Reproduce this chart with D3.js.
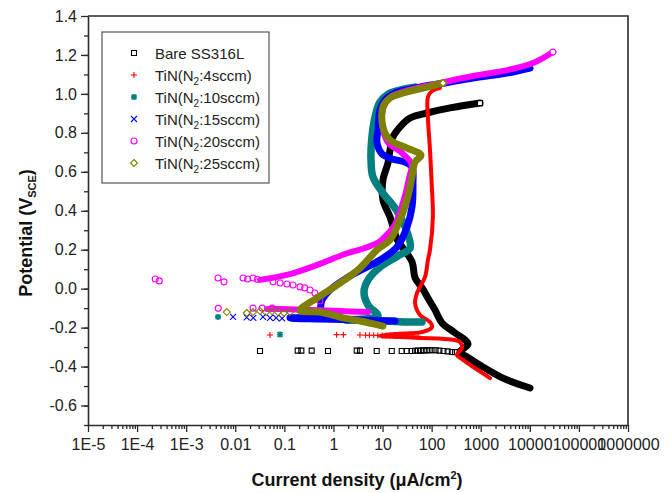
<!DOCTYPE html>
<html>
<head>
<meta charset="utf-8">
<script src="https://cdn.jsdelivr.net/npm/d3@7"></script>
<style>
  html, body { margin: 0; padding: 0; background: #fff; }
  svg { display: block; font-family: "Liberation Sans", Arial, Helvetica, sans-serif; }
</style>
</head>
<body>
<svg id="chart" width="671" height="493"></svg>
<script>
// ---- axis ticks ----
const xTickValues = [1e-5, 1e-4, 1e-3, 1e-2, 1e-1, 1, 10, 100, 1000, 1e4, 1e5, 1e6];
const xTickLabels = ["1E-5", "1E-4", "1E-3", "0.01", "0.1", "1", "10", "100", "1000", "10000", "100000", "1000000"];
const yTickValues = [-0.6, -0.4, -0.2, 0.0, 0.2, 0.4, 0.6, 0.8, 1.0, 1.2, 1.4];
const yTickLabels = ["-0.6", "-0.4", "-0.2", "0.0", "0.2", "0.4", "0.6", "0.8", "1.0", "1.2", "1.4"];

// ---- legend entries: [text, subscript, text after subscript] ----
const legendLabels = [
  ["Bare SS316L", "", ""],
  ["TiN(N", "2", ":4sccm)"],
  ["TiN(N", "2", ":10sccm)"],
  ["TiN(N", "2", ":15sccm)"],
  ["TiN(N", "2", ":20sccm)"],
  ["TiN(N", "2", ":25sccm)"]
];
const seriesColors = ["#000000", "#ff0000", "#008080", "#0000ff", "#ff00ff", "#808000"];
const seriesMarkers = ["square", "plus", "asterisk", "times", "circle", "diamond"];

// ---- polarization curves: [current density (uA/cm2), potential (V vs SCE)] ----
const bareCurve = [[10100,-0.510],[2840,-0.459],[1110,-0.402],[526,-0.351],[378,-0.325],[551,-0.284],
  [299,-0.227],[163,-0.176],[117,-0.109],[84,-0.048],[64,0.004],[46,0.055],[40,0.137],[25,0.214],
  [20,0.250],[14.2,0.368],[10.2,0.455],[10.2,0.558],[12.9,0.645],[14.2,0.712],[16.3,0.779],
  [22.7,0.830],[36.2,0.876],[80.5,0.902],[237,0.928],[966,0.953]];
const bareScatter = [[0.0319,-0.320],[0.187,-0.318],[0.222,-0.318],[0.36,-0.318],[0.774,-0.320],
  [2.98,-0.318],[3.47,-0.318],[7.6,-0.320],[15.4,-0.320],[24.6,-0.320],[31,-0.320],[39.3,-0.320],
  [45.8,-0.319],[52.6,-0.318],[60.3,-0.318],[69.2,-0.317],[79.4,-0.317],[91,-0.316],[104,-0.316],
  [120,-0.316],[144,-0.318],[174,-0.320],[212,-0.322],[258,-0.325],[300,-0.326]];

const tin4Curve = [[1545,-0.459],[697,-0.402],[435,-0.366],[329,-0.340],[415,-0.305],[378,-0.274],
  [187,-0.258],[57.9,-0.253],[22.7,-0.248],[8.87,-0.243],[17.9,-0.233],[66.7,-0.222],[102,-0.197],
  [92.6,-0.171],[57.9,-0.135],[46,-0.073],[50.4,-0.022],[73.3,0.060],[84,0.147],[92.6,0.199],
  [106,0.368],[100,0.543],[92.6,0.712],[84,0.881],[84,0.984],[102,1.015],[148,1.030]];
const tin4Scatter = [[0.051,-0.238],[1.16,-0.236],[1.59,-0.236],[3.47,-0.238],[4.5,-0.239],
  [5.4,-0.239],[6.6,-0.239],[8,-0.240],[9.8,-0.240],[11.9,-0.240],[14.2,-0.241],[17.3,-0.241],
  [21,-0.241],[25,-0.242],[30,-0.242],[36,-0.243],[44,-0.243],[53,-0.244]];

const tin10Curve = [[63.7,-0.171],[28.7,-0.171],[11.2,-0.166],[4.40,-0.161],[1.72,-0.161],
  [8.07,-0.140],[5.06,-0.084],[4.19,-0.017],[5.06,0.045],[8.87,0.111],[20.7,0.168],[36.3,0.209],
  [33.0,0.276],[19.7,0.399],[10.2,0.491],[6.39,0.573],[5.82,0.661],[6.0,0.763],[7.02,0.881],
  [8.87,0.958],[12.9,0.999],[22.7,1.020],[45.8,1.035]];
const tin10Scatter = [[0.00445,-0.145],[0.0815,-0.235]];

const tin15Curve = [[17.9,-0.166],[3.47,-0.161],[0.531,-0.156],[0.130,-0.150],[0.484,-0.135],
  [0.585,-0.058],[0.851,-0.007],[2.17,0.065],[8.87,0.147],[19.7,0.214],[31.5,0.317],[39.8,0.419],
  [41.7,0.543],[39.8,0.625],[28.7,0.650],[15.6,0.666],[9.75,0.692],[7.71,0.748],[8.07,0.815],
  [8.87,0.917],[11.2,0.969],[17.9,1.005],[36.3,1.025],[73.3,1.041],[187,1.056],[697,1.082],
  [3430,1.107],[10090,1.133]];
const tin15Scatter = [[0.0090,-0.145],[0.0171,-0.147],[0.0233,-0.150],[0.0367,-0.145],
  [0.051,-0.150],[0.068,-0.150],[0.090,-0.152]];

const tin20Curve = [[0.032,0.045],[0.130,0.075],[0.531,0.127],[1.72,0.178],[4.40,0.209],
  [8.5,0.240],[12,0.275],[18,0.330],[27,0.455],[35,0.573],[39,0.640],[24,0.700],[13,0.750],
  [10,0.830],[10.5,0.933],[14.5,0.984],[30,1.015],[150,1.056],[697,1.092],[3430,1.122],
  [12000,1.160],[29600,1.215]];
const tin20Lower = [[5.06,-0.120],[1.36,-0.115],[0.333,-0.109],[0.0815,-0.104],[0.0443,-0.104]];
const tin20Scatter = [[2.34e-4,0.050],[2.83e-4,0.040],[0.00445,0.055],[0.0059,0.035],
  [0.0144,0.055],[0.0179,0.050],[0.023,0.055],[0.028,0.048],
  [0.0045,-0.101],[0.023,-0.100],[0.0354,-0.100],[0.0565,-0.100],
  [0.0588,0.035],[0.082,0.029],[0.113,0.024],[0.150,0.019],[0.208,0.009],[0.26,0.004],
  [0.333,-0.007],[0.42,-0.022],[0.48,-0.043],[0.53,-0.063]];

const tin25Curve = [[10.2,-0.192],[3.47,-0.166],[1.57,-0.150],[0.531,-0.120],[0.208,-0.112],
  [0.531,-0.038],[1.36,0.029],[3.47,0.106],[7.71,0.199],[14.2,0.250],[19.7,0.317],[31.5,0.455],
  [39.8,0.573],[45.8,0.650],[60.7,0.686],[31.5,0.722],[14.2,0.763],[10.2,0.830],[10.2,0.933],
  [14.2,0.979],[31.5,1.010],[80.5,1.035],[171,1.056]];
const tin25Scatter = [[0.0067,-0.120],[0.0171,-0.125],[0.023,-0.120],[0.0319,-0.115],
  [0.042,-0.120],[0.056,-0.115],[0.074,-0.120],[0.098,-0.125],[0.130,-0.120]];

(function draw() {
  // ---- series table built from the arrays above ----
  const series = [
    { curves: [bareCurve], scatter: bareScatter, width: 7, endMark: true },
    { curves: [tin4Curve], scatter: tin4Scatter, width: 4, endMark: false },
    { curves: [tin10Curve], scatter: tin10Scatter, width: 7.5, endMark: false },
    { curves: [tin15Curve], scatter: tin15Scatter, width: 7, endMark: false },
    { curves: [tin20Curve, tin20Lower], scatter: tin20Scatter, width: 6, endMark: true },
    { curves: [tin25Curve], scatter: tin25Scatter, width: 7, endMark: true }
  ].map((s, i) => Object.assign(s, { color: seriesColors[i], marker: seriesMarkers[i], label: legendLabels[i] }));

  const svg = d3.select("#chart");
  const plotL = 88, plotR = 628, plotT = 16, plotB = 425;

  const x = d3.scaleLog().domain([1e-5, 1e6]).range([plotL, plotR]);
  const y = d3.scaleLinear().domain([-0.7, 1.4]).range([plotB, plotT]);

  const axisColor = "#2a2a2a";

  // marker outlines centred on the origin
  function markerPath(type, s) {
    const h = s / 2;
    switch (type) {
      case "square": return `M${-h},${-h}H${h}V${h}H${-h}Z`;
      case "plus": return `M${-h},0H${h}M0,${-h}V${h}`;
      case "times": return `M${-h},${-h}L${h},${h}M${-h},${h}L${h},${-h}`;
      case "asterisk": return `M${-h},0H${h}M0,${-h}V${h}M${-h * 0.8},${-h * 0.8}L${h * 0.8},${h * 0.8}M${-h * 0.8},${h * 0.8}L${h * 0.8},${-h * 0.8}`;
      case "circle": return `M${h},0A${h},${h} 0 1,1 ${-h},0A${h},${h} 0 1,1 ${h},0Z`;
      case "diamond": return `M0,${-h}L${h},0L0,${h}L${-h},0Z`;
    }
  }
  const markerSize = { square: 5, plus: 6, asterisk: 6, times: 6, circle: 6, diamond: 7 };

  svg.append("defs").append("clipPath").attr("id", "plotClip")
    .append("rect").attr("x", plotL).attr("y", plotT).attr("width", plotR - plotL).attr("height", plotB - plotT);

  // ---- data ----
  const line = d3.line()
    .x(d => x(d[0])).y(d => y(d[1]))
    .curve(d3.curveCatmullRom.alpha(0.5));

  const plot = svg.append("g").attr("clip-path", "url(#plotClip)");

  series.forEach(s => {
    const g = plot.append("g");
    g.selectAll("path.pt").data(s.scatter).enter().append("path")
      .attr("class", "pt")
      .attr("d", markerPath(s.marker, markerSize[s.marker]))
      .attr("transform", d => `translate(${x(d[0])},${y(d[1])})`)
      .attr("fill", "none")
      .attr("stroke", s.color)
      .attr("stroke-width", s.marker === "asterisk" ? 1.6 : 1.1);
    s.curves.forEach(c => {
      g.append("path")
        .datum(c)
        .attr("d", line)
        .attr("fill", "none")
        .attr("stroke", s.color)
        .attr("stroke-width", s.width)
        .attr("stroke-linejoin", "round")
        .attr("stroke-linecap", "round");
    });
    if (s.endMark) {
      const last = s.curves[0][s.curves[0].length - 1];
      g.append("path")
        .attr("d", markerPath(s.marker, markerSize[s.marker]))
        .attr("transform", `translate(${x(last[0])},${y(last[1])})`)
        .attr("fill", "#fff")
        .attr("stroke", s.color)
        .attr("stroke-width", 1.2);
    }
  });

  // ---- axes ----
  const minorX = [];
  for (let e = -5; e < 6; e++) for (let m = 2; m <= 9; m++) minorX.push(m * Math.pow(10, e));
  const minorY = d3.range(-7, 14).map(v => v / 10);

  svg.append("g")
    .attr("transform", `translate(0,${plotB})`)
    .call(d3.axisBottom(x).tickValues(minorX).tickSize(4).tickSizeOuter(0).tickFormat(""))
    .call(g => g.select(".domain").remove());
  svg.append("g")
    .attr("transform", `translate(${plotL},0)`)
    .call(d3.axisLeft(y).tickValues(minorY).tickSize(4).tickSizeOuter(0).tickFormat(""))
    .call(g => g.select(".domain").remove());

  const xAxis = svg.append("g")
    .attr("transform", `translate(0,${plotB})`)
    .call(d3.axisBottom(x).tickValues(xTickValues).tickSize(7).tickSizeOuter(0).tickPadding(7)
      .tickFormat((d, i) => xTickLabels[i]));
  const yAxis = svg.append("g")
    .attr("transform", `translate(${plotL},0)`)
    .call(d3.axisLeft(y).tickValues(yTickValues).tickSize(7).tickSizeOuter(0).tickPadding(4)
      .tickFormat((d, i) => yTickLabels[i]));

  svg.selectAll(".tick line").attr("stroke", axisColor).attr("stroke-width", 1.3);
  [xAxis, yAxis].forEach(a => {
    a.select(".domain").attr("stroke", axisColor).attr("stroke-width", 1.6);
    a.selectAll("text").attr("font-size", 16).attr("fill", "#222")
      .attr("font-family", "'Liberation Sans', Arial, sans-serif");
  });

  // top and right border
  svg.append("path")
    .attr("d", `M${plotL},${plotT}H${plotR}V${plotB}`)
    .attr("fill", "none").attr("stroke", axisColor).attr("stroke-width", 1.6);

  // ---- axis titles ----
  const xTitle = svg.append("text")
    .attr("x", 357).attr("y", 486)
    .attr("text-anchor", "middle")
    .attr("font-size", 18).attr("font-weight", "bold").attr("fill", "#111");
  xTitle.append("tspan").text("Current density (\u03bcA/cm");
  xTitle.append("tspan").attr("font-size", 11).attr("dy", -7).text("2");
  xTitle.append("tspan").attr("dy", 7).text(")");

  const yTitle = svg.append("text")
    .attr("transform", "translate(32,233) rotate(-90)")
    .attr("text-anchor", "middle")
    .attr("font-size", 18).attr("font-weight", "bold").attr("fill", "#111");
  yTitle.append("tspan").text("Potential (V");
  yTitle.append("tspan").attr("font-size", 11).attr("dy", 4).text("SCE");
  yTitle.append("tspan").attr("dy", -4).text(")");

  // ---- legend ----
  const legend = svg.append("g");
  legend.append("rect")
    .attr("x", 102).attr("y", 32).attr("width", 167).attr("height", 151)
    .attr("fill", "#fff").attr("stroke", "#555").attr("stroke-width", 1.2);

  series.forEach((s, i) => {
    const cy = 53 + i * 22;
    legend.append("path")
      .attr("d", markerPath(s.marker, markerSize[s.marker]))
      .attr("transform", `translate(134,${cy})`)
      .attr("fill", "none").attr("stroke", s.color)
      .attr("stroke-width", s.marker === "asterisk" ? 1.6 : 1.1);
    const t = legend.append("text")
      .attr("x", 155).attr("y", cy + 5.5)
      .attr("font-size", 15).attr("fill", "#222");
    t.append("tspan").text(s.label[0]);
    if (s.label[1]) {
      t.append("tspan").attr("font-size", 10).attr("dy", 4).text(s.label[1]);
      t.append("tspan").attr("dy", -4).text(s.label[2]);
    }
  });
})();
</script>
</body>
</html>
